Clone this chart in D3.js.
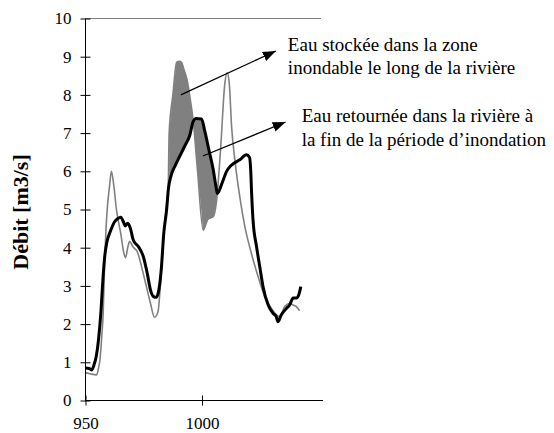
<!DOCTYPE html>
<html>
<head>
<meta charset="utf-8">
<script src="https://cdn.jsdelivr.net/npm/d3@7"></script>
<style>
  html, body { margin: 0; padding: 0; background: #fff; }
  svg { display: block; }
</style>
</head>
<body>
<svg id="chart" width="554" height="433"></svg>
<script>
// Inflow hydrograph (thin grey line): time step and discharge in m3/s
const timeIn = [950, 952, 954.8, 955.6, 956.2, 957, 957.6, 958.2, 958.8, 959.4, 960.3, 961.1, 962.1, 963.3,
  965.1, 966.5, 967.2, 968.2, 968.9, 970.5, 972.2, 974.4, 976.5, 977.9, 979.6, 981.1, 982.2, 983.2, 984.4,
  985.5, 985.9, 987.5, 989.1, 990.2, 991.2, 992.3, 993.6, 995.0, 996.2, 998.1, 1000.5, 1002.6, 1004.8,
  1006.2, 1008, 1009.8, 1010.8, 1011.7, 1012.7, 1014.1, 1016.2, 1018.4, 1021.2, 1024.1, 1026.9, 1029.8,
  1032, 1033.4, 1035.5, 1037.7, 1039.1, 1040.5, 1041.9];
const flowIn = [0.73, 0.70, 0.67, 0.85, 1.06, 1.7, 2.3, 3.6, 4.5, 5.07, 5.6, 6.0, 5.65, 4.99,
  4.38, 3.85, 3.74, 4.03, 4.16, 4.01, 3.9, 3.42, 2.89, 2.54, 2.18, 2.32, 3.07, 4.03, 4.9,
  5.6, 7.0, 8.0, 8.85, 8.88, 8.85, 8.65, 8.39, 7.87, 7.34, 6.0, 4.46, 4.75, 4.81,
  5.2, 6.6, 8.3, 8.58, 8.3, 7.17, 6.3, 5.34, 4.55, 3.85, 3.24, 2.72, 2.41,
  2.24, 2.19, 2.46, 2.54, 2.5, 2.46, 2.35];

// Outflow hydrograph (thick black line)
const timeOut = [950, 951.5, 952.6, 953.6, 954.6, 955.6, 956.6, 957.5, 958.3, 959.2, 960.8, 962.5, 963.8,
  965.1, 966.4, 967.1, 968.1, 969.3, 970.5, 972.9, 974.8, 976.5, 977.9, 979.2, 980.3, 981.2, 982.5, 983.6,
  984.8, 985.6, 986.8, 988.5, 990.5, 992.5, 994.8, 996.2, 997.5, 999.8, 1001.2, 1003, 1004.8, 1006, 1006.6,
  1008.6, 1010.5, 1012.6, 1016.2, 1019.1, 1020.4, 1020.9, 1021.3, 1021.9, 1023.4, 1024.8, 1026.2, 1028.4,
  1030.5, 1031.9, 1032.6, 1034, 1036.2, 1037.6, 1039.1, 1040.5, 1041.5, 1042.4];
const flowOut = [0.85, 0.84, 0.80, 0.92, 1.15, 1.6, 2.3, 3.2, 3.8, 4.15, 4.45, 4.68, 4.76,
  4.80, 4.66, 4.57, 4.64, 4.5, 4.2, 4.01, 3.77, 3.33, 2.89, 2.72, 2.70, 2.81, 3.42, 4.38,
  4.99, 5.55, 5.9, 6.15, 6.4, 6.65, 6.95, 7.3, 7.38, 7.37, 7.05, 6.55, 6.05, 5.6, 5.42,
  5.69, 5.99, 6.16, 6.3, 6.43, 6.36, 6.03, 5.42, 4.72, 4.03, 3.5, 2.98, 2.5,
  2.28, 2.19, 2.06, 2.24, 2.41, 2.5, 2.68, 2.68, 2.76, 2.98];

const yTicks = [0, 1, 2, 3, 4, 5, 6, 7, 8, 9, 10];
const xTicks = [950, 1000];
const xDomain = [950, 1051.5];
const yDomain = [0, 10];
const yTitle = "Débit [m3/s]";

// Storage / release period shaded between the two hydrographs
const shadeRange = [985.9, 1006.6];

// Annotations: arrow from (t0, q0) to (t1, q1), with text lines next to the arrow head
const notes = [
  { t0: 990.9, q0: 8.0, t1: 1031.7, q1: 9.15, dx: 12,
    lines: ["Eau stockée dans la zone", "inondable le long de la rivière"] },
  { t0: 1000.4, q0: 6.4, t1: 1035.9, q1: 7.29, dx: 16,
    lines: ["Eau retournée dans la rivière à", "la fin de la période d’inondation"] }
];

const svg = d3.select("#chart");
const serif = "'Liberation Serif', 'Times New Roman', Times, serif";

const x = d3.scaleLinear().domain(xDomain).range([85.5, 322]);
const y = d3.scaleLinear().domain(yDomain).range([400.5, 18.5]);

// top border line
svg.append("line")
  .attr("x1", x(xDomain[0])).attr("x2", x(xDomain[1]) - 1)
  .attr("y1", y(yDomain[1])).attr("y2", y(yDomain[1]))
  .attr("stroke", "#808080").attr("stroke-width", 1);

// shaded area between the curves
function interp(ts, vs, t) {
  const i = d3.bisectRight(ts, t);
  if (i <= 0) return vs[0];
  if (i >= ts.length) return vs[vs.length - 1];
  const t0 = ts[i - 1], t1 = ts[i];
  return vs[i - 1] + (vs[i] - vs[i - 1]) * (t - t0) / (t1 - t0);
}
const inRange = t => t > shadeRange[0] && t < shadeRange[1];
const shadeT = Array.from(new Set([shadeRange[0], ...timeIn.filter(inRange), ...timeOut.filter(inRange), shadeRange[1]]))
  .sort((a, b) => a - b);
const shadeData = shadeT.map(t => ({ t, a: interp(timeIn, flowIn, t), b: interp(timeOut, flowOut, t) }));

svg.append("path")
  .datum(shadeData)
  .attr("fill", "#808080")
  .attr("d", d3.area().curve(d3.curveMonotoneX)
    .x(d => x(d.t)).y0(d => y(d.b)).y1(d => y(d.a)));

// hydrographs
const line = d3.line().curve(d3.curveMonotoneX).x(d => x(d[0])).y(d => y(d[1]));
svg.append("path")
  .datum(timeIn.map((t, i) => [t, flowIn[i]]))
  .attr("fill", "none").attr("stroke", "#808080").attr("stroke-width", 1.6)
  .attr("stroke-linejoin", "round")
  .attr("d", line);
svg.append("path")
  .datum(timeOut.map((t, i) => [t, flowOut[i]]))
  .attr("fill", "none").attr("stroke", "#000").attr("stroke-width", 3)
  .attr("stroke-linejoin", "round")
  .attr("d", line);

// axes
const yAxis = svg.append("g")
  .attr("transform", `translate(${x(xDomain[0])},0)`)
  .call(d3.axisLeft(y).tickValues(yTicks).tickFormat(d3.format("d")).tickSize(5).tickPadding(9));
yAxis.selectAll(".tick line").attr("x1", 5);
yAxis.select(".domain").attr("d", `M0,${y(0)}V${y(10)}`);

const xAxis = svg.append("g")
  .attr("transform", `translate(0,${y(0)})`)
  .call(d3.axisBottom(x).tickValues(xTicks).tickFormat(d3.format("d")).tickSize(5).tickPadding(11));
xAxis.selectAll(".tick line").attr("y1", -5);
xAxis.select(".domain").attr("d", `M${x(xDomain[0])},0H${x(xDomain[1]) + 1}`);

svg.selectAll(".tick text")
  .attr("font-family", serif).attr("font-size", 17).attr("fill", "#000");
svg.selectAll(".domain, .tick line").attr("stroke", "#000");

// y-axis title
svg.append("text")
  .attr("transform", "translate(28,212) rotate(-90)")
  .attr("text-anchor", "middle")
  .attr("font-family", serif).attr("font-size", 22).attr("font-weight", "bold")
  .text(yTitle);

// arrows and notes
svg.append("defs").append("marker")
  .attr("id", "head").attr("markerUnits", "userSpaceOnUse")
  .attr("markerWidth", 14).attr("markerHeight", 10)
  .attr("refX", 13).attr("refY", 5).attr("orient", "auto")
  .append("path").attr("d", "M0,0L13,5L0,10Z").attr("fill", "#000");

notes.forEach(n => {
  svg.append("line")
    .attr("x1", x(n.t0)).attr("y1", y(n.q0))
    .attr("x2", x(n.t1)).attr("y2", y(n.q1))
    .attr("stroke", "#000").attr("stroke-width", 1.3)
    .attr("marker-end", "url(#head)");
  const txt = svg.append("text")
    .attr("font-family", serif).attr("font-size", 19).attr("fill", "#000");
  n.lines.forEach((l, i) => {
    txt.append("tspan")
      .attr("x", x(n.t1) + n.dx)
      .attr("y", y(n.q1) + i * 23.5)
      .text(l);
  });
});
</script>
</body>
</html>
